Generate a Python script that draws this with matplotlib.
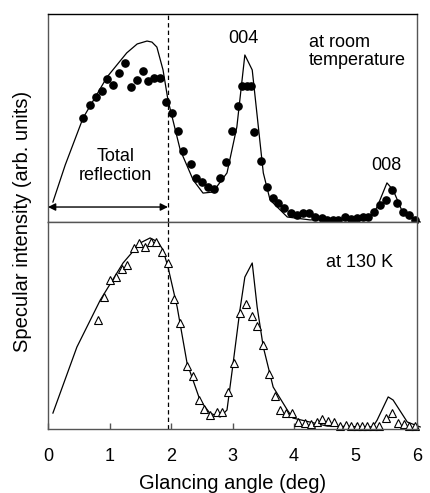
import matplotlib
matplotlib.use("Agg")
import matplotlib.pyplot as plt

plt.rcParams['font.family'] = ['Liberation Sans', 'DejaVu Sans']

# room temperature: calculated curve and measured points
rt_fit_x = [0.08, 0.28, 0.57, 0.96, 1.28, 1.45, 1.61, 1.69, 1.77, 1.87, 1.95, 2.15, 2.36, 2.52,
            2.68, 2.91, 3.07, 3.20, 3.32, 3.50, 3.61, 3.89, 4.26, 5.24, 5.35, 5.51, 5.61,
            5.77, 6.05]
rt_fit_y = [9.6, 27.4, 50.0, 69.7, 81.3, 85.6, 87.0, 86.5, 84.1, 73.1, 58.7, 34.6, 20.2, 13.9,
            14.4, 23.6, 45.7, 80.3, 73.1, 23.6, 10.6, 2.4, 1.0, 1.9, 7.2, 18.8, 15.4,
            4.3, 0.0]
rt_x = [0.57, 0.68, 0.78, 0.88, 0.96, 1.06, 1.15, 1.25, 1.35, 1.45, 1.54, 1.63, 1.72, 1.82,
        1.92, 2.02, 2.11, 2.20, 2.33, 2.41, 2.50, 2.60, 2.70, 2.80, 2.89, 2.99, 3.09, 3.15,
        3.24, 3.30, 3.35, 3.46, 3.56, 3.66, 3.74, 3.84, 3.95, 4.05, 4.15, 4.24, 4.34, 4.46,
        4.54, 4.63, 4.72, 4.83, 4.93, 5.02, 5.12, 5.20, 5.30, 5.40, 5.50, 5.59, 5.67, 5.77,
        5.87, 5.97]
rt_y = [50.0, 56.3, 60.1, 63.0, 68.8, 65.9, 71.6, 76.4, 64.9, 68.3, 72.6, 67.8, 69.2, 69.2,
        57.7, 52.4, 43.8, 34.1, 27.9, 21.2, 19.2, 16.8, 15.9, 21.2, 28.8, 43.8, 55.8, 65.4,
        65.4, 65.4, 43.3, 29.3, 16.8, 11.5, 9.1, 6.7, 4.3, 3.4, 4.3, 4.3, 2.4, 1.9,
        1.0, 1.0, 1.0, 2.4, 1.4, 1.9, 2.4, 2.4, 4.8, 8.2, 10.6, 15.4, 9.1, 4.8,
        3.4, 1.0]

# 130 K
lt_fit_x = [0.08, 0.47, 0.85, 1.22, 1.50, 1.66, 1.79, 1.87, 1.95, 2.10, 2.26, 2.47, 2.63, 2.80,
            2.91, 3.01, 3.12, 3.20, 3.32, 3.40, 3.50, 3.66, 3.89, 3.98, 4.54, 5.28, 5.35,
            5.53, 5.61, 5.84, 6.05]
lt_fit_y = [7.7, 39.6, 62.3, 80.2, 89.9, 92.3, 90.3, 86.5, 78.3, 58.9, 31.9, 14.0, 7.7, 5.8,
            9.2, 31.9, 57.5, 73.4, 80.2, 58.9, 39.6, 20.3, 9.2, 5.3, 1.4, 1.0, 4.3,
            15.5, 14.0, 3.4, 1.0]
lt_x = [0.81, 0.91, 1.01, 1.11, 1.20, 1.28, 1.40, 1.48, 1.58, 1.67, 1.76, 1.85, 1.95, 2.05,
        2.15, 2.26, 2.36, 2.46, 2.54, 2.63, 2.75, 2.83, 2.93, 3.02, 3.12, 3.22, 3.32, 3.40,
        3.50, 3.59, 3.69, 3.77, 3.87, 3.97, 4.07, 4.18, 4.28, 4.37, 4.46, 4.55, 4.65, 4.75,
        4.85, 4.93, 5.02, 5.11, 5.19, 5.28, 5.38, 5.50, 5.59, 5.69, 5.79, 5.87, 5.97]
lt_y = [52.7, 63.8, 72.0, 73.4, 77.3, 79.2, 87.4, 89.9, 87.9, 90.3, 90.3, 85.5, 80.2, 62.8,
        51.2, 30.4, 25.6, 14.0, 9.7, 6.8, 8.2, 8.2, 17.9, 31.9, 56.0, 60.4, 54.6, 49.8,
        40.6, 26.6, 15.9, 9.2, 7.7, 7.7, 3.4, 2.9, 2.4, 3.4, 4.8, 3.9, 3.4, 1.5,
        1.9, 1.5, 1.5, 1.5, 1.5, 1.5, 1.5, 5.3, 7.7, 2.9, 2.4, 1.5, 1.5]

x_ticks = [0, 1, 2, 3, 4, 5, 6]
total_refl_edge = 1.95

fig = plt.figure(figsize=(4.3, 4.93), dpi=100)
ax1 = fig.add_axes([0.1116, 0.5497, 0.8584, 0.4219])
ax2 = fig.add_axes([0.1116, 0.1298, 0.8584, 0.4199])

for ax in (ax1, ax2):
    ax.set_xlim(0, 6)
    ax.set_ylim(0, 100)
    ax.set_yticks([])
    for s in ax.spines.values():
        s.set_color('#555555')
        s.set_linewidth(1.0)
    ax.axvline(total_refl_edge, color='black', lw=0.9, ls=(0, (3.5, 2.5)))

ax1.spines['top'].set_color('black')
ax1.set_xticks([])

ax1.plot(rt_fit_x, rt_fit_y, color='black', lw=0.9, clip_on=False)
ax1.plot(rt_x, rt_y, 'o', color='black', ms=5.2, clip_on=False)
ax2.plot(lt_fit_x, lt_fit_y, color='black', lw=0.9, clip_on=False)
ax2.plot(lt_x, lt_y, '^', mfc='white', mec='black', mew=0.8, ms=6, clip_on=False)

ax1.annotate('', xy=(0, 7.2), xytext=(total_refl_edge, 7.2),
             arrowprops=dict(arrowstyle='<|-|>', color='black', lw=1.0, mutation_scale=11,
                             shrinkA=0, shrinkB=0))
ax1.text(1.1, 27, 'Total\nreflection', ha='center', va='center', fontsize=13, linespacing=1.15)
ax1.text(3.17, 88, '004', ha='center', va='center', fontsize=13)
ax1.text(5.5, 27, '008', ha='center', va='center', fontsize=13)
ax1.text(4.24, 82, 'at room\ntemperature', ha='left', va='center', fontsize=13, linespacing=1.1)
ax2.text(4.52, 80.5, 'at 130 K', ha='left', va='center', fontsize=13)

ax2.set_xticks(x_ticks)
ax2.tick_params(axis='x', direction='in', length=4, width=1, color='#555555',
                labelsize=13, pad=14)
ax2.set_xlabel('Glancing angle (deg)', fontsize=14.5, labelpad=6)
fig.text(0.053, 0.55, 'Specular intensity (arb. units)', rotation=90,
         ha='center', va='center', fontsize=14.5)

fig.savefig('out.png', dpi=100)
